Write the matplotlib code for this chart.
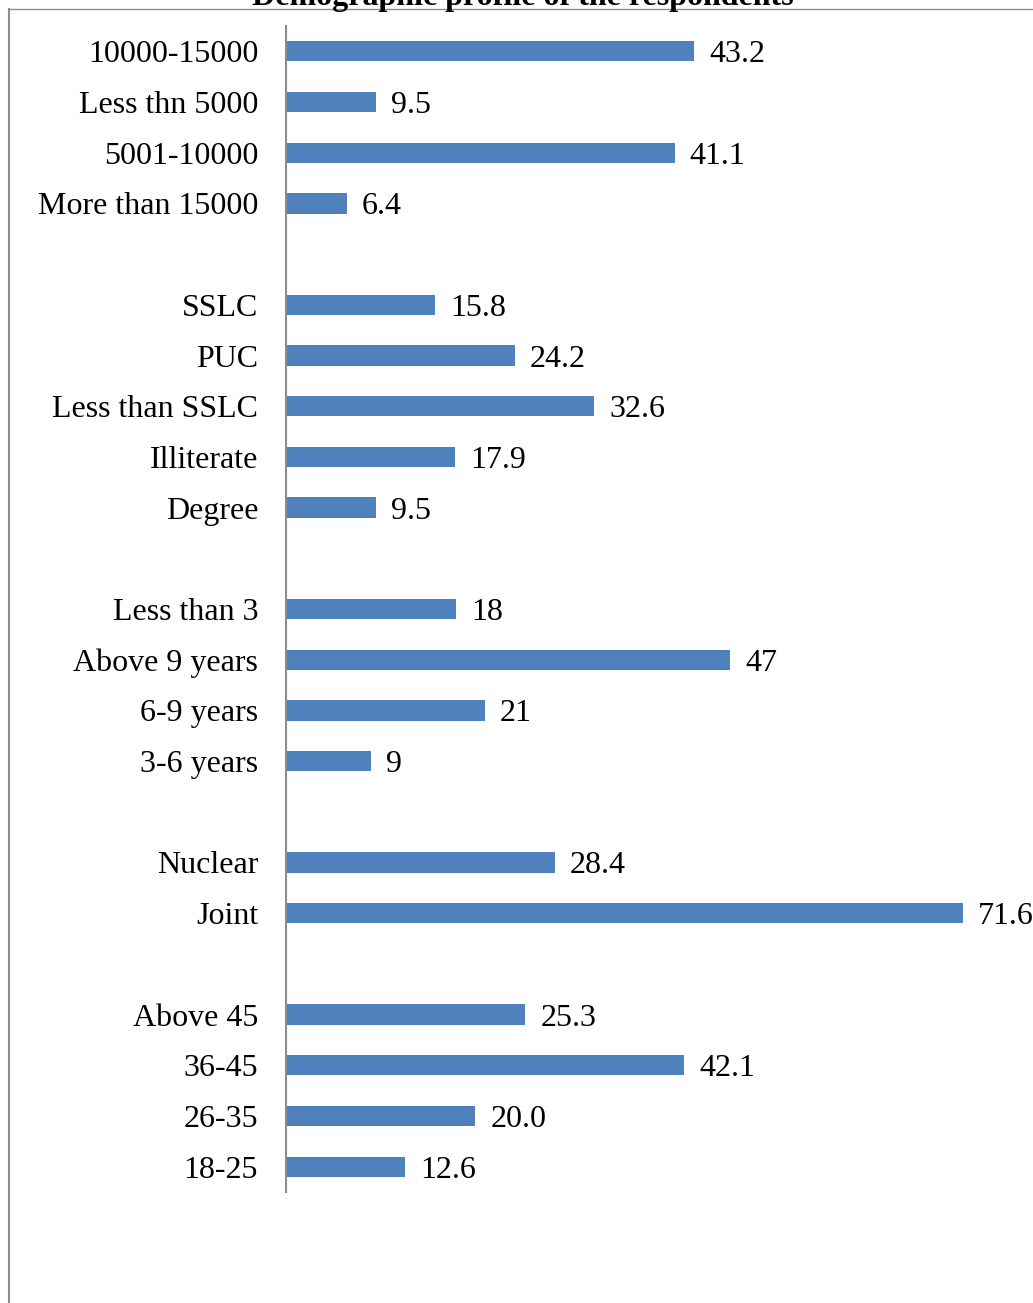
import matplotlib.pyplot as plt
from matplotlib.lines import Line2D

# Categories top to bottom; blank strings are the gaps between groups
labels = [
    '10000-15000', 'Less thn 5000', '5001-10000', 'More than 15000', '',
    'SSLC', 'PUC', 'Less than SSLC', 'Illiterate', 'Degree', '',
    'Less than 3', 'Above 9 years', '6-9 years', '3-6 years', '',
    'Nuclear', 'Joint', '',
    'Above 45', '36-45', '26-35', '18-25',
]
values = [
    43.2, 9.5, 41.1, 6.4, None,
    15.8, 24.2, 32.6, 17.9, 9.5, None,
    18, 47, 21, 9, None,
    28.4, 71.6, None,
    25.3, 42.1, 20.0, 12.6,
]
value_text = [
    '43.2', '9.5', '41.1', '6.4', '',
    '15.8', '24.2', '32.6', '17.9', '9.5', '',
    '18', '47', '21', '9', '',
    '28.4', '71.6', '',
    '25.3', '42.1', '20.0', '12.6',
]

plt.rcParams['font.family'] = ['Liberation Serif', 'DejaVu Serif']

W, H = 1033, 1303
fig = plt.figure(figsize=(W / 100, H / 100), dpi=100)

# chart frame (cropped on the right and bottom)
fig.add_artist(Line2D([9 / W, 9 / W], [0, 1 - 9 / H], color='#8c8c8c', lw=1.5))
fig.add_artist(Line2D([9 / W, 1], [1 - 9 / H, 1 - 9 / H], color='#8c8c8c', lw=1.0))

fig.text(523 / W, 1 - 5 / H, 'Demographic profile of the respondents', ha='center',
         va='baseline', fontsize=23, fontweight='bold')

ax = fig.add_axes([286 / W, 1 - 1192 / H, (W - 286) / W, (1192 - 26) / H])
pos = list(range(len(labels)))
for i, v in enumerate(values):
    if v is None:
        continue
    ax.barh(i, v, height=0.4, color='#4F81BD')
    ax.text(v + 1.6, i, value_text[i], va='center_baseline', ha='left', fontsize=23)

ax.set_xlim(0, (W - 286) / 9.455)
ax.set_ylim(len(labels) - 0.5, -0.5)
ax.set_yticks(pos)
ax.set_yticklabels(labels, fontsize=23, va='center_baseline')
ax.tick_params(axis='y', length=0, pad=20)
ax.set_xticks([])
for s in ['top', 'right', 'bottom']:
    ax.spines[s].set_visible(False)
ax.spines['left'].set_color('#8c8c8c')
ax.spines['left'].set_linewidth(1.5)
ax.patch.set_alpha(0)

fig.savefig('out.png', dpi=100)
